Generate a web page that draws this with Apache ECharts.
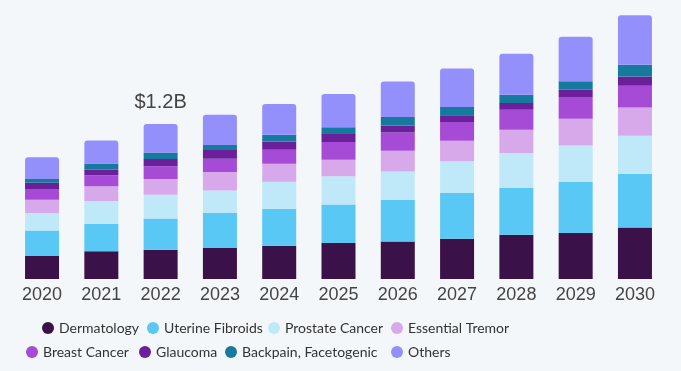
<!DOCTYPE html>
<html><head><meta charset="utf-8">
<script src="https://cdn.jsdelivr.net/npm/echarts@6/dist/echarts.min.js"></script>
<style>html,body{margin:0;padding:0;background:#f4f7fa;}#c{width:681px;height:371px;}</style>
</head><body><div id="c"></div>
<script>
const years = ['2020','2021','2022','2023','2024','2025','2026','2027','2028','2029','2030'];
const seriesNames = ['Dermatology','Uterine Fibroids','Prostate Cancer','Essential Tremor','Breast Cancer','Glaucoma','Backpain, Facetogenic','Others'];
// values in USD million
const dermatology   = [178,214,227,240,258,279,291,312,343,356,399];
const uterine       = [198,214,242,271,286,297,323,354,362,395,416];
const prostate      = [135,175,183,175,209,219,219,245,271,283,294];
const essential     = [103,116,122,142,139,129,160,160,180,207,219];
const breast        = [83,85,98,103,108,137,142,145,155,168,168];
const glaucoma      = [49,42,57,67,64,62,54,51,52,57,72];
const backpain      = [29,49,51,39,52,51,65,65,64,65,91];
const others        = [167,178,220,235,238,259,276,297,317,344,382];
const annotationYear = '2022';
const annotationText = '$1.2B';

const values = [dermatology,uterine,prostate,essential,breast,glaucoma,backpain,others];
const colors = ['#3a1148','#5ac8f4','#bfe9f9','#d7a8ea','#a54bd6','#6b1f9b','#167a9e','#9490fb'];

const series = seriesNames.map((name,i)=>{
  const isTop = i === seriesNames.length-1;
  return {
    name, type:'bar', stack:'total', barWidth:34,
    itemStyle:{color:colors[i], borderRadius: isTop?[3,3,0,0]:0},
    data: values[i].map((v,j)=>{
      if(isTop && years[j]===annotationYear){
        return {value:v, label:{show:true, position:'top', distance:12, formatter:annotationText,
          fontSize:20, color:'#444', fontFamily:'Liberation Sans, sans-serif'}};
      }
      return v;
    })
  };
});

// legend item placement (marker left edge, row top)
const legendLeft = [37, 142, 263, 386, 21, 134, 220, 386];
const legendTop  = [316, 316, 316, 316, 340, 340, 340, 340];
const legendText = {fontSize:14, color:'#333', fontFamily:'Lato, sans-serif'};
const legends = seriesNames.map((n,i)=>({
  data:[n], left:legendLeft[i], top:legendTop[i], icon:'circle',
  itemWidth:12, itemHeight:12, itemGap:0, textStyle:legendText
}));

const chart = echarts.init(document.getElementById('c'));
chart.setOption({
  backgroundColor:'#f4f7fa',
  animation:false,
  color:colors,
  grid:{left:12.4, right:16.4, top:0, bottom:92},
  xAxis:{type:'category', data:years, axisLine:{show:false}, axisTick:{show:false},
    axisLabel:{fontSize:18, color:'#444', margin:7, fontFamily:'Liberation Sans, sans-serif'}},
  yAxis:{type:'value', min:0, max:2160, show:false, splitLine:{show:false}},
  legend:legends,
  series
});
</script></body></html>
